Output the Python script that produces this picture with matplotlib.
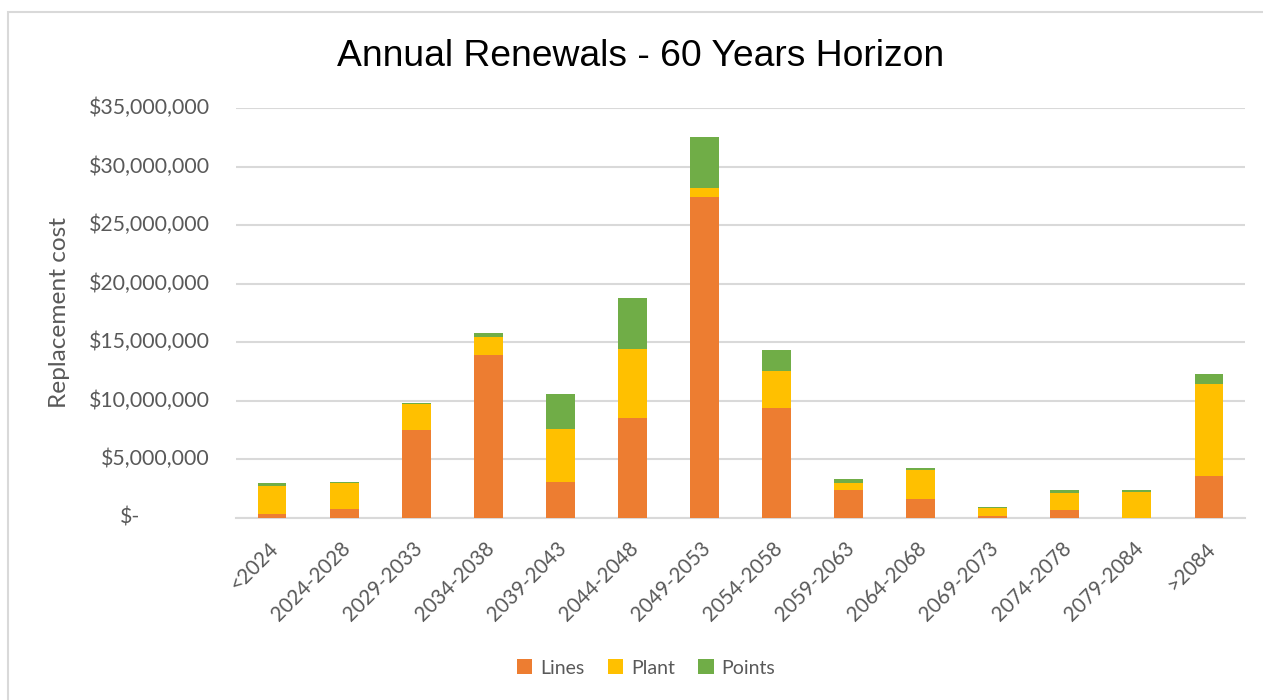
import numpy as np
import matplotlib
matplotlib.use("Agg")
import matplotlib.pyplot as plt
from matplotlib.ticker import NullFormatter
from matplotlib.transforms import blended_transform_factory, ScaledTranslation
from matplotlib.patches import Rectangle

categories = ["<2024", "2024-2028", "2029-2033", "2034-2038", "2039-2043",
              "2044-2048", "2049-2053", "2054-2058", "2059-2063", "2064-2068",
              "2069-2073", "2074-2078", "2079-2084", ">2084"]
# values in dollars
lines = np.array([0.28, 0.71, 7.5, 13.92, 3.0, 8.48, 27.38, 9.4, 2.31, 1.54,
                  0.15, 0.66, 0.0, 3.53]) * 1e6
plant = np.array([2.37, 2.28, 2.2, 1.5, 4.57, 5.89, 0.77, 3.1, 0.65, 2.5,
                  0.62, 1.42, 2.16, 7.88]) * 1e6
points = np.array([0.34, 0.02, 0.05, 0.38, 2.96, 4.36, 4.41, 1.85, 0.34, 0.23,
                   0.11, 0.23, 0.15, 0.89]) * 1e6
y_ticks = np.arange(0, 35e6 + 1, 5e6)

colors = {"Lines": "#ED7D31", "Plant": "#FFC000", "Points": "#70AD47"}
text_color = "#595959"
grid_color = "#D9D9D9"
tick_font = "Lato"

W, H = 1263, 700
fig = plt.figure(figsize=(W / 100, H / 100), dpi=100)
ax = fig.add_axes([236 / W, 1 - 517.5 / H, (1245 - 236) / W, (517.5 - 108) / H])

# outer chart border
fig.patches.append(Rectangle((8 / W, -0.05), 1.1, 1 - 12 / H + 0.05,
                             transform=fig.transFigure, fill=False,
                             edgecolor=grid_color, linewidth=1.5))

x = np.arange(len(categories))
w = 0.4
ax.bar(x, lines, w, color=colors["Lines"], label="Lines", zorder=3)
ax.bar(x, plant, w, bottom=lines, color=colors["Plant"], label="Plant", zorder=3)
ax.bar(x, points, w, bottom=lines + plant, color=colors["Points"], label="Points", zorder=3)

ax.set_xlim(-0.5, len(categories) - 0.5)
ax.set_ylim(0, 35e6)
ax.set_yticks(y_ticks)
ax.yaxis.set_major_formatter(NullFormatter())
ax.grid(axis="y", color=grid_color, linewidth=1.5, zorder=0)
ax.set_axisbelow(True)
for s in ["top", "right", "left"]:
    ax.spines[s].set_visible(False)
ax.spines["bottom"].set_color(grid_color)
ax.spines["bottom"].set_linewidth(1.5)
ax.tick_params(axis="both", length=0, colors=text_color)
ax.tick_params(axis="x", pad=15, labelsize=14.8)

ax.set_xticks(x)
ax.set_xticklabels(categories, rotation=45, ha="right", rotation_mode="anchor",
                   family=tick_font)
shift = ScaledTranslation(-0.04, 0, fig.dpi_scale_trans)
for lab in ax.get_xticklabels():
    lab.set_transform(lab.get_transform() + shift)

# accounting style y labels: "$-" sits further left than the numbers
trans = blended_transform_factory(fig.transFigure, ax.transData)
for v in y_ticks:
    if v == 0:
        ax.text(140 / W, v, "$-", transform=trans, ha="right", va="center",
                fontsize=15.3, color=text_color, family=tick_font)
    else:
        ax.text(210 / W, v, "${:,.0f}".format(v), transform=trans, ha="right",
                va="center", fontsize=15.3, color=text_color, family=tick_font)

fig.text(60 / W, 1 - 313 / H, "Replacement cost", rotation=90, ha="center",
         va="center", fontsize=17.6, color=text_color, family=tick_font)

fig.text(641 / W, 1 - 56 / H, "Annual Renewals - 60 Years Horizon",
         ha="center", va="center", fontsize=26.8, family="Liberation Sans", color="black")

fig.legend(loc="center", bbox_to_anchor=(646 / W, 1 - 668 / H), ncol=3,
           frameon=False, labelcolor=text_color, handlelength=0.8,
           handleheight=0.8, columnspacing=1.2, handletextpad=0.4,
           prop={"family": tick_font, "size": 14})

fig.savefig("out.png", dpi=100, facecolor="white")
